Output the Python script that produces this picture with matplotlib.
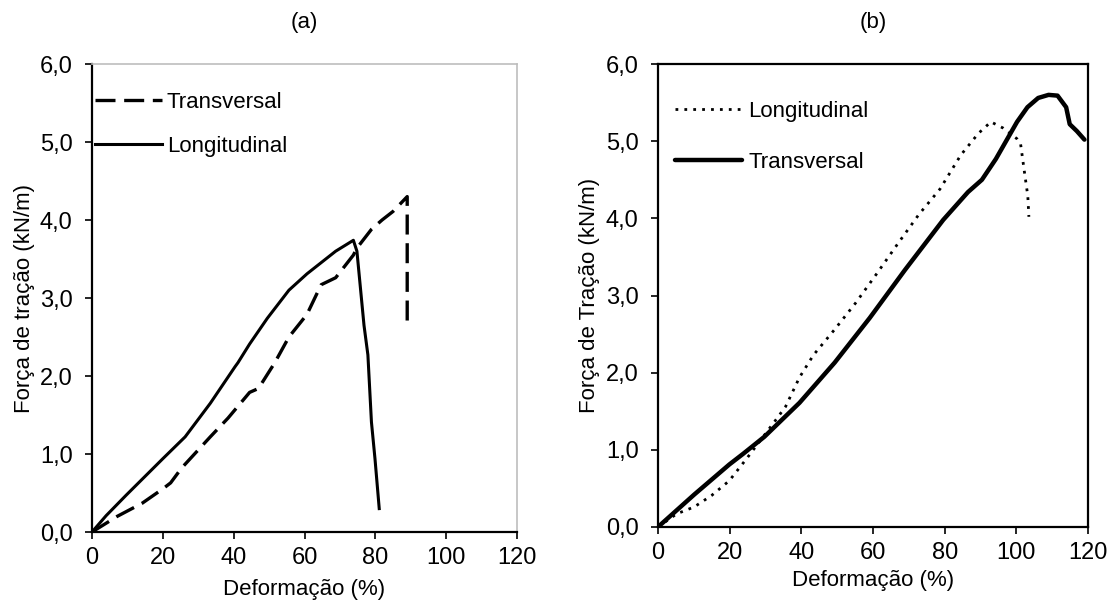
import matplotlib
matplotlib.use("Agg")
import matplotlib.pyplot as plt
from matplotlib.ticker import FuncFormatter

plt.rcParams['font.family'] = ['Liberation Sans', 'DejaVu Sans']

# (a) tensile tests
a_long_x = [0, 4, 9.6, 20, 26.3, 33.4, 40.4, 41.2, 44.5, 49.5, 55.6, 60.7, 68.8, 73.8,
            74.8, 76.8, 77.9, 78.9, 79.9, 81.1]
a_long_y = [0, 0.21, 0.47, 0.94, 1.22, 1.65, 2.12, 2.17, 2.41, 2.74, 3.10, 3.31, 3.60, 3.74,
            3.60, 2.65, 2.27, 1.41, 0.94, 0.30]

a_trans_x = [0, 7.1, 14.2, 20.2, 22.2, 25.3, 33.4, 38.4, 44.5, 47.0, 51.6, 55.6, 60.7, 64.7,
             68.8, 73.8, 74.8, 78.9, 81.9, 85.0, 89.0, 89.0, 89.0]
a_trans_y = [0, 0.20, 0.37, 0.56, 0.63, 0.82, 1.22, 1.46, 1.79, 1.84, 2.17, 2.50, 2.79, 3.17,
             3.26, 3.55, 3.64, 3.88, 4.00, 4.11, 4.30, 4.11, 2.65]

# (b) tensile tests
b_long_x = [0, 5.2, 10.1, 15.0, 19.9, 24.8, 28.7, 32.6, 35.6, 39.5, 43.4, 49.3, 55.1, 61.0,
            66.9, 72.8, 78.7, 84.5, 89.4, 92.9, 96.3, 100.2, 101.2, 102.2, 103.2, 103.5]
b_long_y = [0, 0.17, 0.26, 0.41, 0.60, 0.89, 1.13, 1.37, 1.56, 1.94, 2.23, 2.56, 2.90, 3.28,
            3.67, 4.05, 4.38, 4.82, 5.10, 5.25, 5.17, 5.03, 4.96, 4.62, 4.29, 4.02]

b_trans_x = [0, 10.1, 19.9, 23.8, 29.7, 39.5, 49.3, 59.1, 68.9, 79.6, 86.5, 90.4, 94.3,
             100.2, 103.1, 106.1, 109.0, 111.5, 113.9, 114.9, 116.9, 119.0]
b_trans_y = [0, 0.42, 0.81, 0.95, 1.17, 1.61, 2.13, 2.71, 3.33, 3.98, 4.34, 4.50, 4.77,
             5.25, 5.44, 5.56, 5.60, 5.59, 5.44, 5.22, 5.13, 5.02]

x_ticks = [0, 20, 40, 60, 80, 100, 120]
y_ticks = [0, 1, 2, 3, 4, 5, 6]

FS = 16
TFS = 17
comma = FuncFormatter(lambda v, p: f"{v:.1f}".replace(".", ","))

fig = plt.figure(figsize=(11.11, 6.09), dpi=100)
ax1 = fig.add_axes([92 / 1111, 1 - 532 / 609, 425 / 1111, 468 / 609])
ax2 = fig.add_axes([658 / 1111, 1 - 527 / 609, 430 / 1111, 463 / 609])


def style(ax, ylabel, title, xpad, ypad):
    ax.set_xlim(0, 120)
    ax.set_ylim(0, 6)
    ax.set_xticks(x_ticks)
    ax.set_yticks(y_ticks)
    ax.yaxis.set_major_formatter(comma)
    ax.tick_params(direction='out', length=5, width=1.2, labelsize=TFS, color='black')
    ax.tick_params(axis='y', pad=9)
    ax.tick_params(axis='x', pad=6)
    ax.set_xlabel("Deformação (%)", fontsize=FS, labelpad=xpad)
    ax.set_ylabel(ylabel, fontsize=FS, labelpad=ypad)
    ax.set_title(title, fontsize=FS, pad=26)


# panel (a)
ax1.plot(a_trans_x, a_trans_y, color='black', lw=2.4, dashes=(6, 2.6), label='Transversal')
ax1.plot(a_long_x, a_long_y, color='black', lw=2.2, label='Longitudinal')
style(ax1, "Força de tração (kN/m)", "(a)", 7, 3.5)
for s in ('left', 'bottom'):
    ax1.spines[s].set_color('black')
    ax1.spines[s].set_linewidth(1.6)
for s in ('top', 'right'):
    ax1.spines[s].set_color('#bdbdbd')
    ax1.spines[s].set_linewidth(1.2)
ax1.legend(loc='upper left', frameon=False, fontsize=FS, handlelength=3.0,
           handletextpad=0.22, labelspacing=1.04, borderaxespad=0.0,
           borderpad=0.0, bbox_to_anchor=(0.008, 0.94))

# panel (b)
ax2.plot(b_long_x, b_long_y, color='black', lw=2.0, linestyle=(0, (1, 2.2)),
         label='Longitudinal')
ax2.plot(b_trans_x, b_trans_y, color='black', lw=3.2, solid_capstyle='round',
         label='Transversal')
style(ax2, "Força de Tração (kN/m)", "(b)", 4, 4)
for s in ax2.spines.values():
    s.set_color('black')
    s.set_linewidth(1.6)
ax2.legend(loc='upper left', frameon=False, fontsize=FS, handlelength=3.0,
           handletextpad=0.3, labelspacing=1.36, borderaxespad=0.0,
           borderpad=0.0, bbox_to_anchor=(0.04, 0.92))

fig.savefig("out.png", dpi=100, facecolor='white')
